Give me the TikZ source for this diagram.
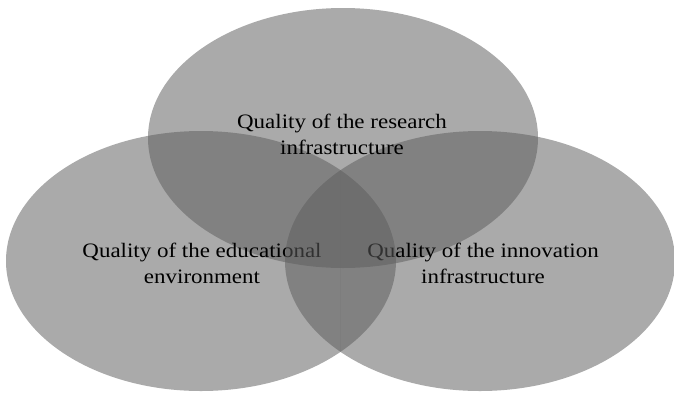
\documentclass[tikz,border=0pt]{standalone}
\usepackage{fontspec}
\setmainfont{Liberation Serif}[FakeStretch=1.12]
\definecolor{vennfill}{gray}{0.37}

\begin{document}
\begin{tikzpicture}[x=1pt,y=-1pt,
    venn/.style={fill=vennfill,fill opacity=0.53},
    vennlabel/.style={align=center,anchor=base,inner sep=0pt,
      font=\fontsize{20.5}{26}\selectfont}]
    
    \useasboundingbox (0,0) rectangle (674,392);
    % Centres
    \coordinate (research) at (343,138);
    \coordinate (education) at (201,261);
    \coordinate (innovation) at (480,261);
    
    % Top ellipse
    \fill[venn] (research) ellipse[x radius=195,y radius=130];
    % Outer halves of the lower ellipses
    \begin{scope}
        \clip (0,0) rectangle (340,392);
        \fill[venn] (education) ellipse[x radius=195,y radius=130];
    \end{scope}
    \begin{scope}
        \clip (340,0) rectangle (674,392);
        \fill[venn] (innovation) ellipse[x radius=195,y radius=130];
    \end{scope}
    
    % Lower labels
    \node[vennlabel] (edu) at (202,283) {Quality of the educational\\environment};
    \node[vennlabel] (inno) at (483,283) {Quality of the innovation\\infrastructure};
    
    % Inner halves (over the labels)
    \begin{scope}
        \clip (0,0) rectangle (340,392);
        \fill[venn] (innovation) ellipse[x radius=195,y radius=130];
    \end{scope}
    \begin{scope}
        \clip (340,0) rectangle (674,392);
        \fill[venn] (education) ellipse[x radius=195,y radius=130];
    \end{scope}
    
    % Top label
    \node[vennlabel] (res) at (342,154) {Quality of the research\\infrastructure};
    
\end{tikzpicture}
\end{document}
